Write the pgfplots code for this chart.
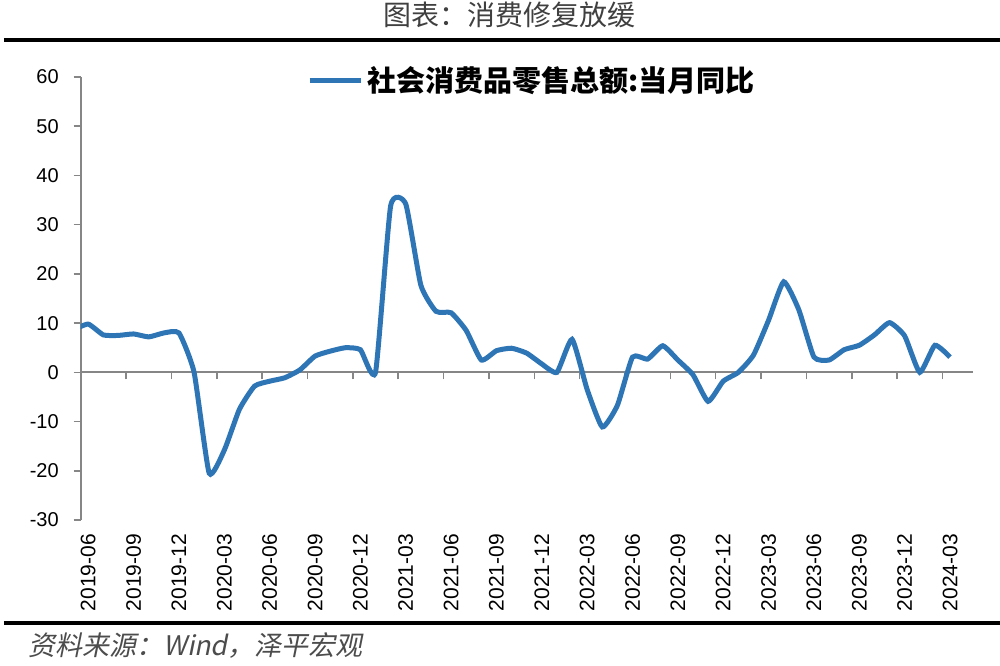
\documentclass[border=0pt]{standalone}
\usepackage{fontspec}
\setmainfont{Liberation Sans}
\newfontfamily\cjk{Noto Sans CJK SC}
\newfontfamily\cjkit[FakeSlant=0.2]{Noto Sans CJK SC}
\usepackage{pgfplots}
\usepackage{pgfplotstable}
\pgfplotsset{compat=1.18}
\definecolor{lineblue}{HTML}{2E75B6}
\definecolor{axgray}{HTML}{868686}

% month index: 0 = 2019-06; January values are 0 (Jan-Feb reported together)
\pgfplotstableread{
k v
-1 8.6
0 9.8
1 7.6
2 7.5
3 7.8
4 7.2
5 8.0
6 8.0
7 0
8 -20.5
9 -15.8
10 -7.5
11 -2.8
12 -1.8
13 -1.1
14 0.5
15 3.3
16 4.3
17 5.0
18 4.6
19 0
20 33.8
21 34.2
22 17.7
23 12.4
24 12.1
25 8.5
26 2.5
27 4.4
28 4.9
29 3.9
30 1.7
31 0
32 6.7
33 -3.5
34 -11.1
35 -6.7
36 3.1
37 2.7
38 5.4
39 2.5
40 -0.5
41 -5.9
42 -1.8
43 0
44 3.5
45 10.6
46 18.4
47 12.7
48 3.1
49 2.5
50 4.6
51 5.5
52 7.6
53 10.1
54 7.4
55 0
56 5.5
57 3.1
}\retail

\begin{document}
\begin{tikzpicture}
\useasboundingbox (0,0) rectangle (500bp,333bp);
\begin{scope}[shift={(0,333bp)}, x=0.5bp, y=-0.5bp]
  \node[font=\cjk\fontsize{14bp}{16bp}\selectfont, text=black!75] at (510,15) {图表：消费修复放缓};
  \draw[line width=2bp] (4,40) -- (1000,40);
  \draw[line width=2bp] (4,623) -- (1000,623);
  \node[anchor=west, font=\cjkit\fontsize{13.5bp}{16bp}\selectfont, text=black!70, inner sep=0pt] at (28,646) {资料来源：Wind，泽平宏观};
\end{scope}

% zero line with tick marks between categories
\begin{axis}[
  at={(40.35bp,73bp)}, anchor=south west,
  scale only axis, width=446bp, height=221.5bp,
  xmin=-0.5, xmax=58.5, ymin=-30, ymax=60,
  axis x line=middle, axis y line=none,
  axis line style={-, draw=axgray, line width=1bp},
  xtick={-0.5,2.5,...,56.5}, ytick=\empty,
  xticklabel style={text opacity=0},
  tick align=outside, major tick length=3.5bp,
  xtick style={draw=axgray, line width=0.75bp},
]
\end{axis}

\begin{axis}[
  at={(40.35bp,73bp)}, anchor=south west,
  scale only axis, width=446bp, height=221.5bp,
  xmin=-0.5, xmax=58.5, ymin=-30, ymax=60,
  axis y line=left, axis x line=bottom,
  axis line style={-},
  x axis line style={draw=none},
  y axis line style={draw=axgray, line width=1bp},
  ytick={-30,-20,...,60},
  xtick={0,3,...,57},
  xticklabels={2019-06,2019-09,2019-12,2020-03,2020-06,2020-09,2020-12,2021-03,2021-06,2021-09,2021-12,2022-03,2022-06,2022-09,2022-12,2023-03,2023-06,2023-09,2023-12,2024-03},
  tick align=outside, major tick length=3.5bp,
  ytick style={draw=axgray, line width=0.75bp},
  xtick style={draw=none},
  /pgf/number format/assume math mode=true,
  yticklabel style={font=\fontsize{10bp}{12bp}\selectfont, xshift=-4bp},
  xticklabel style={rotate=90, anchor=east, font=\fontsize{10.5bp}{12bp}\selectfont},
  legend style={at={(0.2535,0.993)}, anchor=west, draw=none, fill=none, inner sep=0pt,
    font=\cjk\bfseries\fontsize{14.5bp}{16bp}\selectfont},
  legend image code/.code={\draw[#1] (0bp,0bp) -- (25.5bp,0bp);},
]
\addplot[lineblue, line width=2.5bp, smooth, tension=0.3] table[x=k, y=v] {\retail};
\addlegendentry{社会消费品零售总额:当月同比}
\end{axis}
\end{tikzpicture}
\end{document}
